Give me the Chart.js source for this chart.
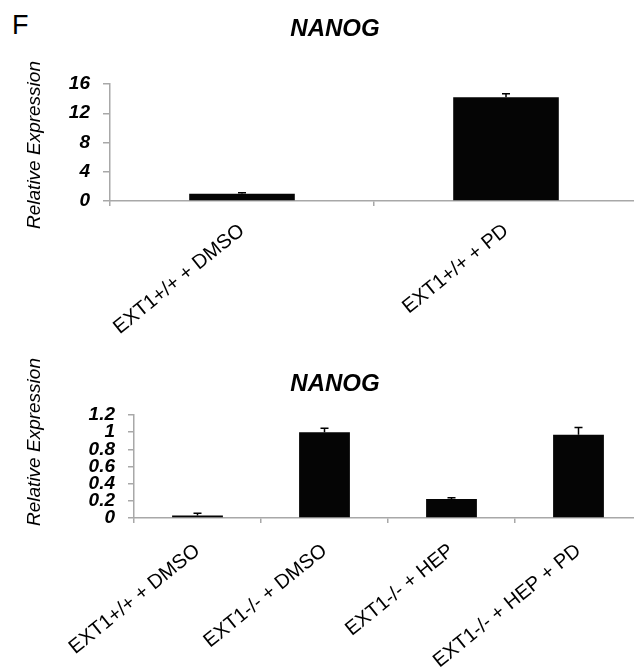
<!DOCTYPE html>
<html><head><meta charset="utf-8">
<script src="https://cdn.jsdelivr.net/npm/chart.js@4"></script>
<style>
html,body{margin:0;padding:0;background:#fff;overflow:hidden;width:634px;height:671px}
#panel{position:absolute;left:12px;top:9px;font:27px "Liberation Sans",Arial,sans-serif;color:#000;line-height:1.2}
.wrap{position:absolute;left:0}
</style></head><body>
<div id="panel">F</div>
<div class="wrap" style="top:0;width:640px;height:340px"><canvas id="c1"></canvas></div>
<div class="wrap" style="top:340px;width:644px;height:331px"><canvas id="c2"></canvas></div>
<script>
const titleText = "NANOG";
const yTitleText = "Relative Expression";

const topCategories = ["EXT1+/+ + DMSO", "EXT1+/+ + PD"];
const topValues = [1.0, 14.2];
const topErrors = [0.12, 0.45];
const topTicks = [0, 4, 8, 12, 16];

const bottomCategories = ["EXT1+/+ + DMSO", "EXT1-/- + DMSO", "EXT1-/- + HEP", "EXT1-/- + HEP + PD"];
const bottomValues = [0.03, 1.0, 0.22, 0.97];
const bottomErrors = [0.025, 0.045, 0.015, 0.085];
const bottomTicks = [0, 0.2, 0.4, 0.6, 0.8, 1, 1.2];

const FONT = '"Liberation Sans", Arial, Helvetica, sans-serif';
Chart.defaults.font.family = FONT;
const AXIS = '#a8a8a8';

const errorBars = {
  id: 'errorBars',
  afterDatasetsDraw(chart, args, opts) {
    const meta = chart.getDatasetMeta(0);
    const ys = chart.scales.y;
    const ctx = chart.ctx;
    ctx.save();
    ctx.strokeStyle = '#000';
    ctx.lineWidth = opts.width;
    meta.data.forEach((bar, i) => {
      const v = chart.data.datasets[0].data[i];
      const e = opts.errors[i];
      const y0 = ys.getPixelForValue(v);
      const y1 = ys.getPixelForValue(v + e);
      ctx.beginPath();
      ctx.moveTo(bar.x, y0); ctx.lineTo(bar.x, y1);
      ctx.moveTo(bar.x - opts.cap / 2, y1); ctx.lineTo(bar.x + opts.cap / 2, y1);
      ctx.stroke();
    });
    ctx.restore();
  }
};

const textLabels = {
  id: 'textLabels',
  afterDraw(chart, args, opts) {
    const ctx = chart.ctx;
    opts.items.forEach(it => {
      ctx.save();
      ctx.font = it.font;
      ctx.fillStyle = '#000';
      ctx.textAlign = 'center';
      ctx.textBaseline = 'middle';
      ctx.translate(it.x, it.y);
      ctx.rotate(it.rot || 0);
      ctx.fillText(it.text, 0, 0);
      ctx.restore();
    });
  }
};

function makeChart(id, cats, vals, errs, ticks, cfg) {
  return new Chart(document.getElementById(id), {
    type: 'bar',
    data: {
      labels: cats,
      datasets: [{
        data: vals,
        backgroundColor: '#050505',
        borderWidth: 0,
        categoryPercentage: 1,
        barPercentage: 0.4
      }]
    },
    plugins: [errorBars, textLabels],
    options: {
      responsive: true,
      maintainAspectRatio: false,
      animation: false,
      layout: { padding: { left: 0, right: 2, top: cfg.top, bottom: 0 } },
      plugins: {
        legend: { display: false },
        tooltip: { enabled: false },
        title: { display: false },
        errorBars: { errors: errs, cap: 8, width: 1.5 },
        textLabels: { items: [
          { text: titleText, x: 335, y: cfg.titleY, font: 'italic bold 24px ' + FONT },
          { text: yTitleText, x: 35, y: cfg.yTitleY, rot: -Math.PI / 2, font: 'italic 19px ' + FONT }
        ] }
      },
      scales: {
        x: {
          grid: { offset: true, drawOnChartArea: false, drawTicks: true, tickLength: 5, color: AXIS, lineWidth: 1.5 },
          border: { color: AXIS, width: 1.5 },
          ticks: { minRotation: 39, maxRotation: 39, autoSkip: false, color: '#000', font: { size: 20 }, padding: cfg.xPad },
          afterFit: s => { s.height = cfg.xHeight; }
        },
        y: {
          min: ticks[0], max: ticks[ticks.length - 1],
          grid: { drawOnChartArea: false, drawTicks: true, tickLength: cfg.yTick, color: AXIS, lineWidth: 1.5 },
          border: { color: AXIS, width: 1.5 },
          ticks: { autoSkip: false, color: '#000', padding: cfg.yPad,
                   font: { size: cfg.yFont, style: 'italic', weight: 'bold' },
                   callback: v => String(v) },
          afterBuildTicks: s => { s.ticks = ticks.map(v => ({ value: v })); },
          afterFit: s => { s.width = cfg.yWidth; }
        }
      }
    }
  });
}

makeChart('c1', topCategories, topValues, topErrors, topTicks,
  { top: 84, titleY: 29, xHeight: 139, xPad: 13, yWidth: 110, yTick: 7, yPad: 13, yFont: 19, yTitleY: 145 });
makeChart('c2', bottomCategories, bottomValues, bottomErrors, bottomTicks,
  { top: 75, titleY: 44, xHeight: 153, xPad: 16, yWidth: 134, yTick: 6, yPad: 13, yFont: 19, yTitleY: 102 });
</script>
</body></html>
